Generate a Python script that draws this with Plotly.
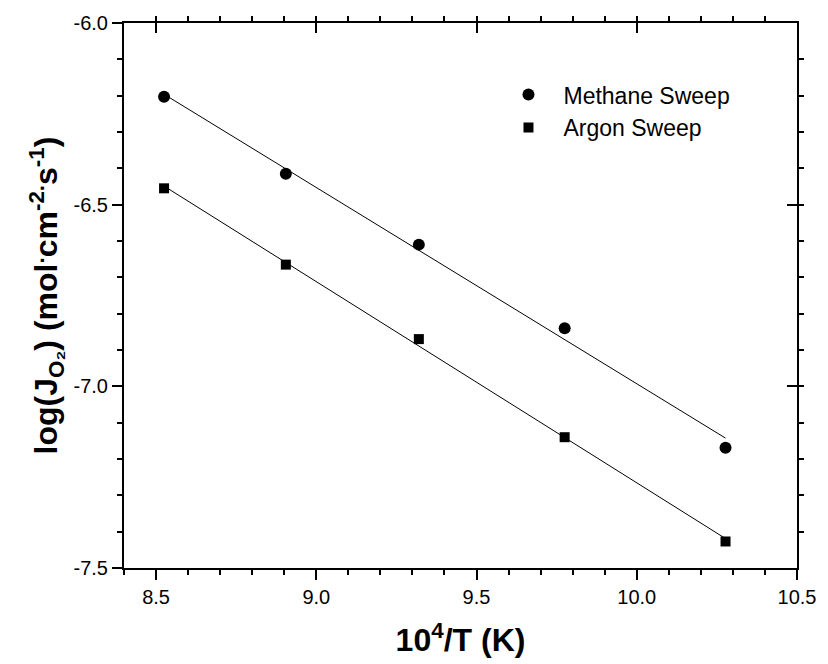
import numpy as np
import plotly.graph_objects as go

# Data
x_vals = [8.525, 8.905, 9.320, 9.775, 10.277]
methane = [-6.203, -6.415, -6.610, -6.840, -7.169]
argon = [-6.455, -6.665, -6.870, -7.140, -7.427]

x_ticks = [8.5, 9.0, 9.5, 10.0, 10.5]
y_ticks = [-6.0, -6.5, -7.0, -7.5]

FONT = "Liberation Sans, Arial, sans-serif"

fig = go.Figure()

xa = np.array(x_vals)
for ys in (methane, argon):
    m, b = np.polyfit(xa, np.array(ys), 1)
    xs = [xa.min(), xa.max()]
    fig.add_trace(go.Scatter(x=xs, y=[m * v + b for v in xs], mode="lines",
                             line=dict(color="black", width=1), showlegend=False,
                             hoverinfo="skip"))

fig.add_trace(go.Scatter(x=x_vals, y=methane, mode="markers", name="Methane Sweep",
                         marker=dict(symbol="circle", size=12, color="black")))
fig.add_trace(go.Scatter(x=x_vals, y=argon, mode="markers", name="Argon Sweep",
                         marker=dict(symbol="square", size=10, color="black")))

# invisible trace for the mirrored axes
fig.add_trace(go.Scatter(x=[8.4], y=[-7.5], xaxis="x2", yaxis="y2", mode="markers",
                         marker=dict(opacity=0), showlegend=False, hoverinfo="skip"))

tickfont = dict(family=FONT, size=20, color="black")
common = dict(showgrid=False, zeroline=False, linecolor="black", linewidth=2,
              ticklen=10, tickwidth=2, tickcolor="black",
              minor=dict(ticklen=5, tickwidth=2, tickcolor="black", dtick=0.1))

fig.update_layout(
    width=828, height=664,
    margin=dict(l=124, r=22, t=17, b=95),
    paper_bgcolor="white", plot_bgcolor="white",
    font=dict(family=FONT, color="black"),
    xaxis=dict(range=[8.4, 10.5], tickvals=x_ticks, ticktext=[f"{v:.1f}" for v in x_ticks],
               ticks="outside", tickfont=tickfont,
               title=dict(text="<b>10<sup>4</sup>/T (K)</b>", font=dict(family=FONT, size=32),
                          standoff=22),
               **common),
    yaxis=dict(range=[-7.5, -6.0], tickvals=y_ticks, ticktext=[f"{v:.1f}" for v in y_ticks],
               ticks="outside", tickfont=tickfont,
               title=dict(text="<b>log(J<sub>O₂</sub>) (mol<sup>.</sup>cm<sup>-2.</sup>s<sup>-1</sup>)</b>",
                          font=dict(family=FONT, size=32), standoff=6),
               **common),
    xaxis2=dict(range=[8.4, 10.5], overlaying="x", side="top", anchor="y2",
                tickvals=x_ticks, showticklabels=False, ticks="inside", **common),
    yaxis2=dict(range=[-7.5, -6.0], overlaying="y", side="right", anchor="x2",
                tickvals=y_ticks, showticklabels=False, ticks="inside", **common),
    legend=dict(x=0.549, y=0.908, xanchor="left", yanchor="top", bgcolor="rgba(0,0,0,0)",
                font=dict(family=FONT, size=23, color="black"), itemwidth=60,
                tracegroupgap=0),
    showlegend=True,
)

fig.write_html("out.html")
